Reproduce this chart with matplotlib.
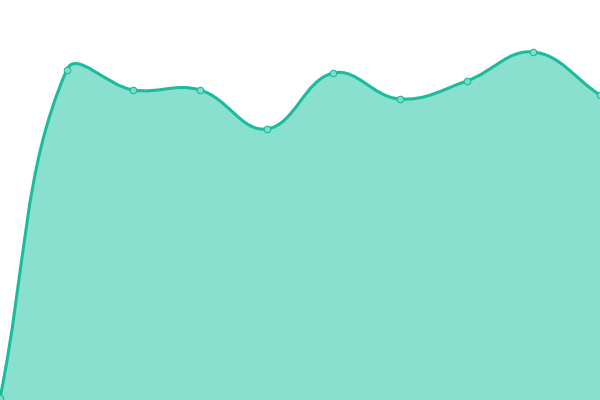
import matplotlib
matplotlib.use("Agg")
import matplotlib.pyplot as plt
import numpy as np
from matplotlib.path import Path
from matplotlib.patches import PathPatch

# ----------------------------
# data
# ----------------------------
x_idx = list(range(10))
values = [2, 330, 310, 310, 271, 327, 301, 319, 348, 305]

line_color = "#1abc9c"
fill_color = "#8ae0cf"

fig = plt.figure(figsize=(6, 4), dpi=100)
ax = fig.add_axes([0, 0, 1, 1])
ax.set_xlim(0, 9)
ax.set_ylim(0, 400)
ax.axis("off")

# spline control points (tension 0.4), worked out in pixel space
pts = ax.transData.transform(np.column_stack([x_idx, values]))
tension = 0.4
n = len(pts)
cp_prev = pts.copy()
cp_next = pts.copy()
for i in range(n):
    prev = pts[max(i - 1, 0)]
    cur = pts[i]
    nxt = pts[min(i + 1, n - 1)]
    d01 = np.hypot(*(cur - prev))
    d12 = np.hypot(*(nxt - cur))
    tot = d01 + d12
    s01 = d01 / tot if tot else 0
    s12 = d12 / tot if tot else 0
    cp_prev[i] = cur - tension * s01 * (nxt - prev)
    cp_next[i] = cur + tension * s12 * (nxt - prev)

inv = ax.transData.inverted()
pts_d = inv.transform(pts)
cpp_d = inv.transform(cp_prev)
cpn_d = inv.transform(cp_next)

verts = [pts_d[0]]
codes = [Path.MOVETO]
for i in range(n - 1):
    verts += [cpn_d[i], cpp_d[i + 1], pts_d[i + 1]]
    codes += [Path.CURVE4] * 3

# filled area
fill_verts = verts + [(x_idx[-1], 0), (x_idx[0], 0), pts_d[0]]
fill_codes = codes + [Path.LINETO, Path.LINETO, Path.CLOSEPOLY]
ax.add_patch(PathPatch(Path(fill_verts, fill_codes), facecolor=fill_color,
                       edgecolor="none", zorder=1))
ax.add_patch(PathPatch(Path(verts, codes), facecolor="none",
                       edgecolor=line_color, linewidth=2.2, zorder=2))

ax.scatter(x_idx, values, s=22, facecolor="#7fdcc8", edgecolor=line_color,
           linewidth=0.8, zorder=3, clip_on=False)

fig.savefig("out.png", dpi=100)
